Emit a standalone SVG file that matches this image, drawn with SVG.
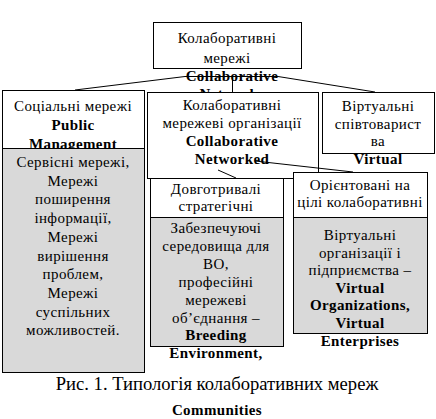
<svg xmlns="http://www.w3.org/2000/svg" width="436" height="419" viewBox="0 0 436 419">
<style>
.box{fill:#fff;stroke:#000;stroke-width:1}
.gray{fill:#d9d9d9;stroke:#000;stroke-width:1}
.t{font-family:"Liberation Serif","Times New Roman",serif;font-size:15px;fill:#000;text-anchor:middle;letter-spacing:0.4px}
.b{font-weight:bold}
.cap{font-family:"Liberation Serif","Times New Roman",serif;font-size:18.6px;fill:#000;text-anchor:middle}
.con{fill:none;stroke:#000;stroke-width:1}
</style>
<defs>
<clipPath id="clipTop"><rect x="140" y="0" width="180" height="92"/></clipPath>
</defs>
<rect width="436" height="419" fill="#fff"/>
<g id="node-top">
<rect class="box" x="153.5" y="22.5" width="148" height="46"/>
<text class="t" x="227" y="43">Колаборативні</text>
<text class="t" x="227" y="63">мережі</text>
<text class="t b" x="232" y="81">Collaborative</text>
<text class="t b" x="232" y="99" clip-path="url(#clipTop)">Networks</text>
</g>
<g id="node-social">
<rect class="box" x="2.5" y="90.5" width="142" height="58"/>
<text class="t" x="73" y="111">Соціальні мережі</text>
<text class="t b" x="73" y="130">Public</text>
<text class="t b" x="73" y="149">Management</text>
<rect class="gray" x="2.5" y="148.5" width="142" height="224"/>
<text class="t" x="73" y="167">Сервісні мережі,</text>
<text class="t" x="73" y="185.7">Мережі</text>
<text class="t" x="73" y="204.4">поширення</text>
<text class="t" x="73" y="223.1">інформації,</text>
<text class="t" x="73" y="241.8">Мережі</text>
<text class="t" x="73" y="260.5">вирішення</text>
<text class="t" x="73" y="279.2">проблем,</text>
<text class="t" x="73" y="297.9">Мережі</text>
<text class="t" x="73" y="316.6">суспільних</text>
<text class="t" x="73" y="335.3">можливостей.</text>
</g>
<g id="node-cno">
<rect class="box" x="147.5" y="92.5" width="171" height="86"/>
<text class="t" x="232" y="110">Колаборативні</text>
<text class="t" x="232" y="128">мережеві організації</text>
<text class="t b" x="232" y="146">Collaborative</text>
<text class="t b" x="232" y="164">Networked</text>
</g>
<g id="node-virtual">
<rect class="box" x="322.5" y="92.5" width="112" height="61"/>
<text class="t" x="378" y="111">Віртуальні</text>
<text class="t" x="378" y="128.5">співтоварист</text>
<text class="t" x="378" y="146">ва</text>
<text class="t b" x="378" y="164">Virtual</text>
</g>
<g id="node-long">
<rect class="box" x="150.5" y="178.5" width="133" height="39"/>
<text class="t" x="216" y="194">Довготривалі</text>
<text class="t" x="216" y="211">стратегічні</text>
<rect class="gray" x="150.5" y="217.5" width="133" height="129"/>
<text class="t" x="216" y="233">Забезпечуючі</text>
<text class="t" x="216" y="251">середовища для</text>
<text class="t" x="216" y="269">ВО,</text>
<text class="t" x="216" y="287">професійні</text>
<text class="t" x="216" y="305">мережеві</text>
<text class="t" x="216" y="322.5">об’єднання –</text>
<text class="t b" x="216" y="340">Breeding</text>
<text class="t b" x="216" y="358">Environment,</text>
</g>
<g id="node-goal">
<rect class="box" x="293.5" y="172.5" width="134" height="45"/>
<text class="t" x="360" y="190">Орієнтовані на</text>
<text class="t" x="360" y="207">цілі колаборативні</text>
<rect class="gray" x="293.5" y="217.5" width="134" height="116"/>
<text class="t" x="360" y="240">Віртуальні</text>
<text class="t" x="360" y="257.5">організації і</text>
<text class="t" x="360" y="275">підприємства –</text>
<text class="t b" x="360" y="292.5">Virtual</text>
<text class="t b" x="360" y="310">Organizations,</text>
<text class="t b" x="360" y="327.5">Virtual</text>
<text class="t b" x="360" y="346">Enterprises</text>
</g>
<g id="connectors">
<polyline class="con" points="75,90 185,76.5 278,76.5 375,92"/>
<line class="con" x1="232.5" y1="76.5" x2="232.5" y2="92"/>
<line class="con" x1="255" y1="161" x2="353" y2="172"/>
<line class="con" x1="218" y1="170" x2="236" y2="178"/>
</g>
<g id="caption">
<text class="cap" x="217" y="390">Рис. 1. Типологія колаборативних мереж</text>
<text class="t b" x="217" y="415">Communities</text>
</g>
</svg>
